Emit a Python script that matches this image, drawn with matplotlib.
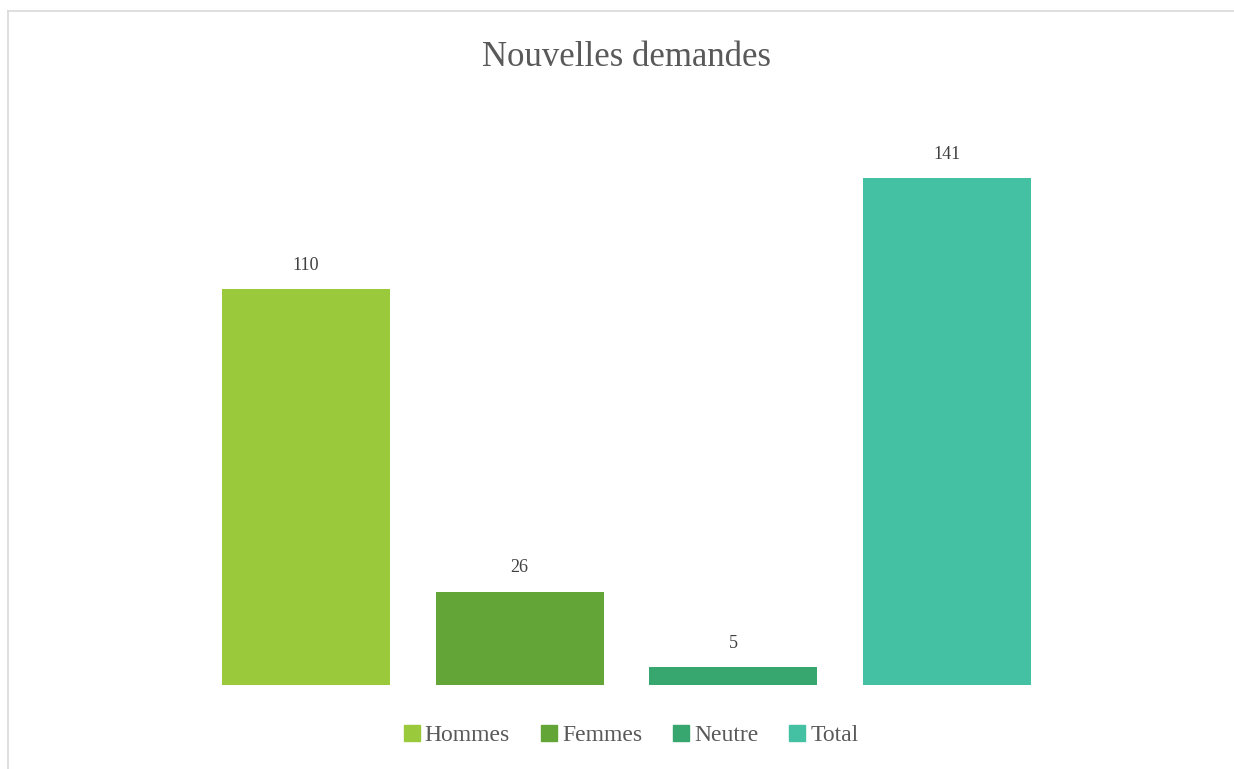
import matplotlib.pyplot as plt
from matplotlib.lines import Line2D

categories = ["Hommes", "Femmes", "Neutre", "Total"]
values = [110, 26, 5, 141]
colors = ["#9ACA3C", "#63A537", "#37A76F", "#44C1A3"]

W, H = 1234, 769
fig = plt.figure(figsize=(W / 100, H / 100), dpi=100)
plt.rcParams["font.family"] = ["Liberation Serif", "DejaVu Serif"]

# plot area placed so bars land where they are in the reference
x0, x1 = 178, 1075
y_base, y_top = 685, 685 - 160 * 3.596
ax = fig.add_axes([x0 / W, 1 - y_base / H, (x1 - x0) / W, (y_base - y_top) / H])

bars = ax.bar(range(len(values)), values, width=0.786, color=colors)
ax.bar_label(bars, labels=[str(v) for v in values], padding=11,
             fontsize=13, color="#404040")
ax.set_xlim(-0.6, 3.6)
ax.set_ylim(0, 160)
ax.axis("off")

fig.text(627 / W, 1 - 57 / H, "Nouvelles demandes", ha="center", va="center",
         fontsize=25, color="#595959")

handles = [Line2D([], [], marker="s", linestyle="none", markersize=11,
                  markerfacecolor=c, markeredgecolor=c) for c in colors]
fig.legend(handles, categories, loc="center", bbox_to_anchor=(631 / W, 1 - 735 / H),
           ncol=4, frameon=False, fontsize=17, labelcolor="#595959",
           handlelength=0.7, handletextpad=0.2, columnspacing=1.3)

# chart border (only top and left edges visible in the crop)
fig.add_artist(Line2D([8 / W, 8 / W], [0, 1 - 11 / H], color="#D9D9D9", lw=1.2))
fig.add_artist(Line2D([8 / W, 1], [1 - 11 / H, 1 - 11 / H], color="#D9D9D9", lw=1.2))

fig.savefig("out.png", dpi=100, facecolor="white")
